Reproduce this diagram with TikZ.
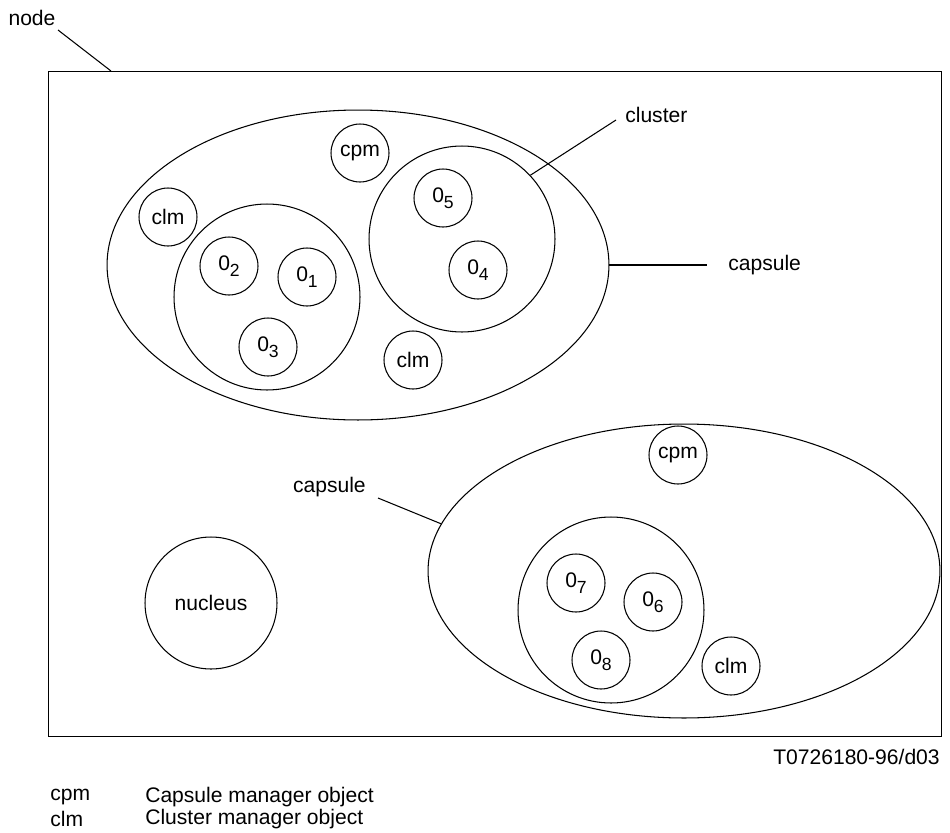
\documentclass[tikz,border=0pt]{standalone}
\usepackage{fontspec}
\setmainfont{Liberation Sans}
\usetikzlibrary{shapes.geometric}
\newcommand{\osub}[1]{0\raisebox{-0.5ex}{\fontsize{10}{10}\selectfont #1}}
\tikzset{
  obj/.style={draw, circle, inner sep=0pt, minimum size=1.16cm},
  clus/.style={draw, circle, inner sep=0pt, minimum size=3.72cm},
  caps/.style={draw, ellipse, inner sep=0pt},
  lbl/.style={inner sep=1pt}
}
\begin{document}
\begin{tikzpicture}[x=0.02cm,y=-0.02cm,line width=0.6pt,font=\fontsize{12}{14}\selectfont]
\useasboundingbox (0,0) rectangle (950,832);
\node[draw, minimum width=17.88cm, minimum height=13.32cm, inner sep=0pt] (frame) at (495,404) {};
\node[lbl] (nodelbl) at (32,18) {node};
\coordinate (nodept) at (111,71);
\path[draw] (58,30) -- (nodept);

% upper capsule
\node[caps, minimum width=10.04cm, minimum height=6.2cm] (cap1) at (358,265) {};
\node[clus] (cl1) at (267,297) {};
\node[clus] (cl2) at (462,239) {};
\node[obj] (cpm1) at (360,153) {cpm};
\node[obj] (clm1) at (168,217) {clm};
\node[obj] (clm2) at (413,360) {clm};
\node[obj] (o2) at (229,266) {\osub{2}};
\node[obj] (o1) at (307,277) {\osub{1}};
\node[obj] (o3) at (268,347) {\osub{3}};
\node[obj] (o5) at (443,198) {\osub{5}};
\node[obj] (o4) at (478,270) {\osub{4}};

% lower capsule
\node[caps, minimum width=10.24cm, minimum height=5.88cm] (cap2) at (684,571) {};
\node[clus] (cl3) at (611,610) {};
\node[obj] (cpm2) at (678,455) {cpm};
\node[obj] (clm3) at (731,666) {clm};
\node[obj] (o7) at (576,583) {\osub{7}};
\node[obj] (o6) at (653,602) {\osub{6}};
\node[obj] (o8) at (601,660) {\osub{8}};

\node[draw, circle, inner sep=0pt, minimum size=2.64cm] (nucleus) at (211,603) {nucleus};

% labels
\node[lbl, anchor=west] (clusterlbl) at (623,115) {cluster};
\path[draw] (616,120) -- (cl2.43);
\node[lbl, anchor=west] (caplbl1) at (726,265) {capsule};
\coordinate (capend) at (707,265);
\path[draw] (cap1.east) -- (capend);
\node[lbl, anchor=east] (caplbl2) at (368,487) {capsule};
\path[draw] (378,498) -- (cap2.169);

\node[lbl, anchor=east] (ref) at (942,757) {T0726180-96/d03};
\node[lbl, anchor=west] (k1) at (48,797) {cpm};
\node[lbl, anchor=west] (v1) at (143,797) {Capsule manager object};
\node[lbl, anchor=west] (k2) at (48,819) {clm};
\node[lbl, anchor=west] (v2) at (143,819) {Cluster manager object};
\end{tikzpicture}
\end{document}
